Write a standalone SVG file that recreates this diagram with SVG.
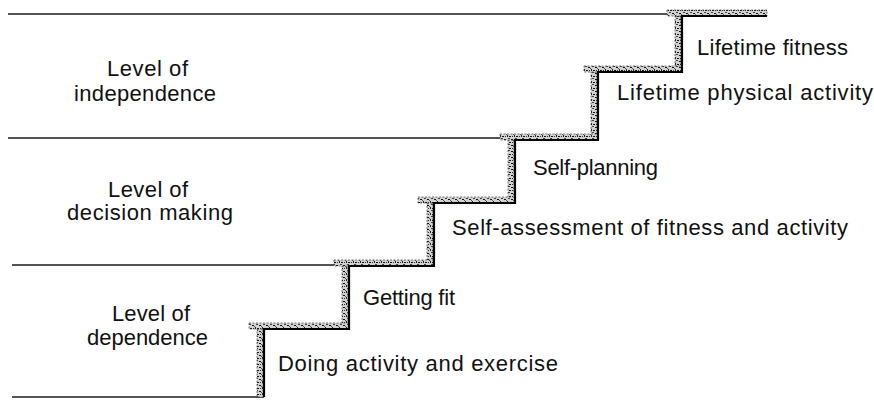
<svg xmlns="http://www.w3.org/2000/svg" width="874" height="402" viewBox="0 0 874 402">
  <defs>
    <pattern id="speck" width="7" height="6" patternUnits="userSpaceOnUse">
      <rect width="7" height="6" fill="#d2d2d2"/>
      <rect x="0" y="1" width="2" height="1" fill="#111"/>
      <rect x="3" y="3" width="1" height="2" fill="#222"/>
      <rect x="4" y="0" width="2" height="1" fill="#444"/>
      <rect x="1" y="4" width="1" height="1" fill="#333"/>
      <rect x="5" y="4" width="2" height="1" fill="#111"/>
      <rect x="2" y="2" width="1" height="1" fill="#555"/>
    </pattern>
    <style>
      .lbl { font-family: "Liberation Sans", Arial, sans-serif; font-size: 22px; fill: #111; }
      .lvl { font-family: "Liberation Sans", Arial, sans-serif; font-size: 22px; fill: #111; }
      .band { fill: url(#speck); stroke: #444; stroke-width: 0.7; stroke-dasharray: 2 1.5; }
      .line { fill: none; stroke: #1a1a1a; stroke-width: 1.6; }
      .edge { fill: none; stroke: #000; stroke-width: 2.2; stroke-linejoin: miter; }
    </style>
  </defs>
  <rect width="874" height="402" fill="#ffffff"/>

  <g id="connectors">
    <line class="line" x1="8" y1="14" x2="667" y2="14"/>
    <line class="line" x1="8" y1="138" x2="500" y2="138"/>
    <line class="line" x1="12" y1="265" x2="334" y2="265"/>
    <line class="line" x1="12" y1="397" x2="264" y2="397"/>
  </g>

  <g id="stairs">
    <rect class="band" x="257" y="329" width="6" height="68"/>
    <rect class="band" x="342" y="266" width="6" height="63"/>
    <rect class="band" x="427" y="203" width="6" height="63"/>
    <rect class="band" x="508" y="140" width="6" height="63"/>
    <rect class="band" x="591" y="72" width="6" height="68"/>
    <rect class="band" x="675" y="16" width="6" height="56"/>
    <rect class="band" x="249" y="323" width="100" height="6"/>
    <rect class="band" x="334" y="260" width="100" height="6"/>
    <rect class="band" x="418" y="197" width="97" height="6"/>
    <rect class="band" x="500" y="134" width="98" height="6"/>
    <rect class="band" x="584" y="66" width="98" height="6"/>
    <rect class="band" x="667" y="10" width="100" height="6"/>
    <path class="edge" d="M264,397 V329 H349 V266 H434 V203 H515 V140 H598 V72 H682 V16 H767"/>
  </g>

  <g id="level-independence">
    <text class="lvl" x="107" y="76" textLength="81" lengthAdjust="spacing">Level of</text>
    <text class="lvl" x="74" y="101" textLength="142" lengthAdjust="spacing">independence</text>
  </g>
  <g id="level-decision-making">
    <text class="lvl" x="108" y="197" textLength="80" lengthAdjust="spacing">Level of</text>
    <text class="lvl" x="67" y="220" textLength="166" lengthAdjust="spacing">decision making</text>
  </g>
  <g id="level-dependence">
    <text class="lvl" x="112" y="321" textLength="78" lengthAdjust="spacing">Level of</text>
    <text class="lvl" x="87" y="345" textLength="121" lengthAdjust="spacing">dependence</text>
  </g>

  <g id="step-doing">
    <text class="lbl" x="278" y="371" textLength="280" lengthAdjust="spacing">Doing activity and exercise</text>
  </g>
  <g id="step-getting-fit">
    <text class="lbl" x="363" y="305" textLength="92" lengthAdjust="spacing">Getting fit</text>
  </g>
  <g id="step-self-assessment">
    <text class="lbl" x="452" y="235" textLength="396" lengthAdjust="spacing">Self-assessment of fitness and activity</text>
  </g>
  <g id="step-self-planning">
    <text class="lbl" x="533" y="175" textLength="125" lengthAdjust="spacing">Self-planning</text>
  </g>
  <g id="step-lifetime-activity">
    <text class="lbl" x="617" y="100" textLength="256" lengthAdjust="spacing">Lifetime physical activity</text>
  </g>
  <g id="step-lifetime-fitness">
    <text class="lbl" x="697" y="55" textLength="151" lengthAdjust="spacing">Lifetime fitness</text>
  </g>
</svg>
